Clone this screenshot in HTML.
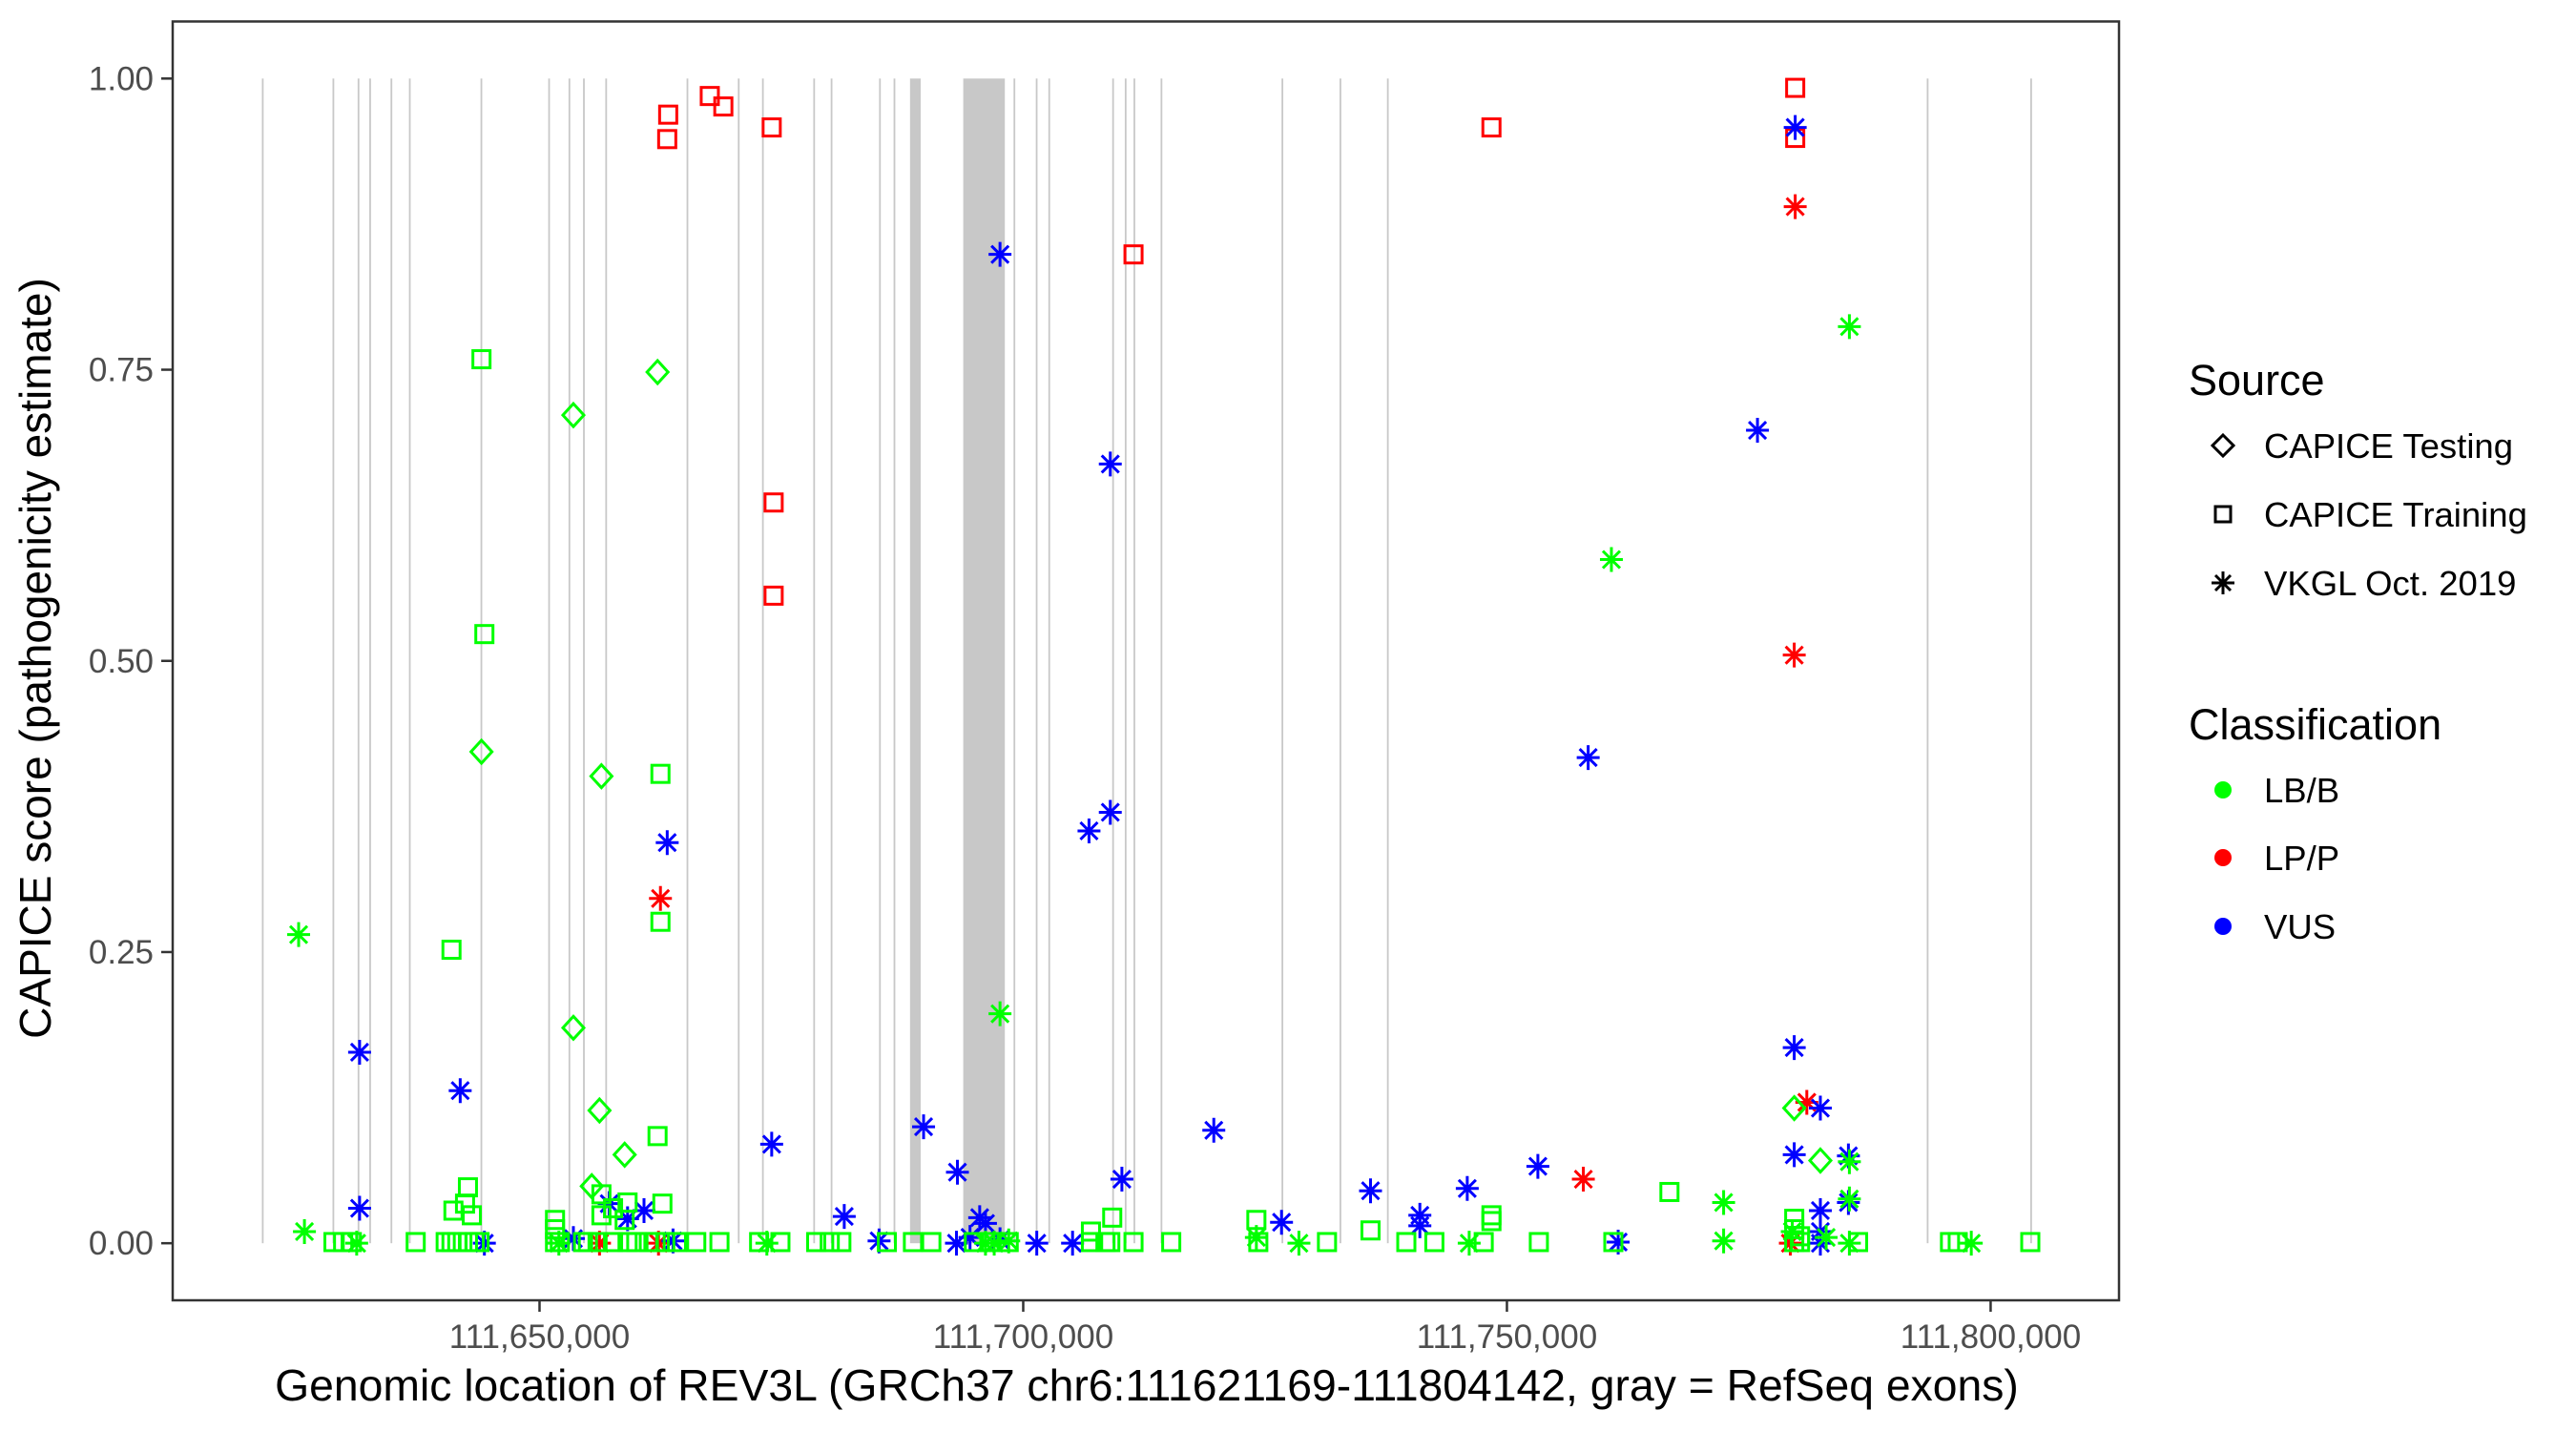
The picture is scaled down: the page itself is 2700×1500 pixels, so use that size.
<!DOCTYPE html>
<html><head><meta charset="utf-8"><title>REV3L CAPICE scores</title>
<style>
html,body{margin:0;padding:0;background:#fff;}
svg{display:block;font-family:"Liberation Sans",Arial,sans-serif;}
</style></head>
<body>
<svg id="chart" width="2700" height="1500" viewBox="0 0 2700 1500">
  <rect x="0" y="0" width="2700" height="1500" fill="#fff"/>
  <g id="exons"></g>
  <g id="points"></g>
  <rect x="181" y="22.5" width="2040" height="1340.5" fill="none" stroke="#333" stroke-width="2.5"/>
  <g id="xaxis"></g>
  <g id="yaxis"></g>
  <text x="1202" y="1468" font-size="46.3" text-anchor="middle" fill="#000">Genomic location of REV3L (GRCh37 chr6:111621169-111804142, gray = RefSeq exons)</text>
  <text transform="translate(53,690) rotate(-90)" font-size="46" text-anchor="middle" fill="#000">CAPICE score (pathogenicity estimate)</text>
  <g id="legend">
    <text x="2294" y="414" font-size="45" fill="#000">Source</text>
    <path d="M2330 456 L2341 467 L2330 478 L2319 467 Z" fill="none" stroke="#000" stroke-width="3"/>
    <text x="2373" y="480" font-size="36.5" fill="#000">CAPICE Testing</text>
    <rect x="2322" y="531" width="16" height="16" fill="none" stroke="#000" stroke-width="3"/>
    <text x="2373" y="552" font-size="36.5" fill="#000">CAPICE Training</text>
    <g stroke="#000" stroke-width="3">
      <line x1="2330" y1="599" x2="2330" y2="623"/><line x1="2318" y1="611" x2="2342" y2="611"/>
      <line x1="2322" y1="603" x2="2338" y2="619"/><line x1="2322" y1="619" x2="2338" y2="603"/>
    </g>
    <text x="2373" y="624" font-size="36.5" fill="#000">VKGL Oct. 2019</text>
    <text x="2294" y="775" font-size="45" fill="#000">Classification</text>
    <circle cx="2330" cy="828" r="9" fill="#00ff00"/>
    <text x="2373" y="841" font-size="36.5" fill="#000">LB/B</text>
    <circle cx="2330" cy="899" r="9" fill="#ff0000"/>
    <text x="2373" y="912" font-size="36.5" fill="#000">LP/P</text>
    <circle cx="2330" cy="971" r="9" fill="#0000ff"/>
    <text x="2373" y="984" font-size="36.5" fill="#000">VUS</text>
  </g>
</svg>
<script>
// ---- data ----
const xTickValues = [111650000, 111700000, 111750000, 111800000];
const xTickLabels = ["111,650,000", "111,700,000", "111,750,000", "111,800,000"];
const yTickValues = [0, 0.25, 0.5, 0.75, 1];
const yTickLabels = ["0.00", "0.25", "0.50", "0.75", "1.00"];
// exon start/end (kb)
const exonStartKb = [111621.3,111628.6,111631.2,111632.4,111634.6,111636.5,111643.9,111650.9,111653.0,111654.5,111656.8,111665.2,111670.5,111673.0,111678.3,111680.1,111685.1,111686.6,111688.3,111693.8,111699.0,111701.3,111702.6,111709.2,111710.5,111711.4,111714.2,111726.7,111732.7,111737.6,111793.4,111804.1];
const exonEndKb   = [111621.45,111628.75,111631.35,111632.55,111634.75,111636.65,111644.05,111651.05,111653.15,111654.65,111656.95,111665.35,111670.65,111673.15,111678.45,111680.25,111685.25,111686.75,111689.4,111698.1,111699.15,111701.45,111702.75,111709.35,111710.65,111711.55,111714.35,111726.85,111732.85,111737.75,111793.55,111804.25];
// variants: position (kb), score, source (T=testing, R=training, V=VKGL), class (B=LB/B, P=LP/P, U=VUS)
const posKb = [
111667.6,111669.0,111663.3,111663.2,111674.0,111674.2,111674.2,111711.4,111748.4,111779.8,111779.8,
111779.8,111779.7,111662.5,111757.9,111781.0,111656.2,111662.3,111779.3,
111697.6,111709.0,111779.8,111775.9,111758.4,111663.2,111706.8,111709.0,111631.4,111641.8,111674.0,111689.7,111719.7,111710.2,111693.2,111631.4,111779.7,111782.4,111779.7,111753.2,111745.9,111735.9,111741.0,111741.0,111726.7,111681.5,111785.3,111782.4,111785.3,111782.4,111644.3,111653.5,111657.2,111659.1,111660.8,111663.8,111685.1,111693.1,111696.1,111701.4,111705.1,111697.6,111761.5,111782.4,111695.5,111694.5,
111625.1,111625.7,111760.8,111785.4,111697.6,111772.4,111772.4,111785.4,111785.4,111785.4,111728.5,111746.1,111798.0,111673.5,111697.0,111696.1,111631.1,111724.1,111652.0,111698.5,111783.0,111779.5,
111662.2,111653.5,111644.0,111656.4,111653.5,111656.2,111658.8,111655.4,111779.7,111782.4,
111644.0,111644.3,111662.5,111640.9,111662.5,111662.2,111642.6,111642.3,111641.1,111643.0,111662.7,111656.4,111656.4,111651.6,111651.6,111709.2,111707.0,111766.8,111735.9,111748.4,111748.4,111724.1,111779.7,111779.7,111780.3,111657.6,111659.1,111658.8,
111628.7,111629.7,111630.6,111637.2,111640.3,111640.9,111642.6,111643.8,111651.6,111652.1,111654.5,111657.6,111659.1,111660.0,111661.3,111664.2,111666.2,111668.6,111672.7,111674.9,111678.6,111680.0,111681.2,111685.9,111688.6,111690.5,111694.9,111698.5,111707.0,111708.5,111711.4,111715.3,111724.3,111731.4,111739.6,111742.5,111747.6,111753.3,111761.0,111779.7,111780.3,111786.3,111795.8,111796.6,111804.1,111641.5,111643.3,111655.0,111656.0,111662.0,111663.0,111709.0,111696.5
];
const scores = [
0.985,0.976,0.969,0.948,0.958,0.636,0.556,0.849,0.958,0.992,0.949,
0.89,0.505,0.296,0.055,0.121,0,0,0,
0.849,0.669,0.958,0.698,0.417,0.344,0.354,0.37,0.164,0.131,0.085,0.1,0.097,0.055,0.061,0.03,0.168,0.116,0.076,0.066,0.047,0.045,0.024,0.015,0.018,0.023,0.075,0.028,0.035,0.01,0,0.004,0.034,0.021,0.028,0.002,0.002,0,0.017,0,0,0.003,0.001,0,0.022,0.005,
0.265,0.01,0.587,0.787,0.197,0.035,0.002,0.07,0.038,0,0,0,0,0,0,0,0,0.005,0,0.002,0.005,0.01,
0.748,0.711,0.422,0.401,0.185,0.114,0.076,0.049,0.116,0.071,
0.759,0.523,0.403,0.252,0.276,0.092,0.048,0.034,0.028,0.024,0.034,0.042,0.024,0.02,0.012,0.022,0.01,0.044,0.011,0.024,0.019,0.02,0.021,0.012,0.006,0.03,0.035,0.02,
0.001,0.001,0.001,0.001,0.001,0.001,0.001,0.001,0.001,0.001,0.001,0.001,0.001,0.001,0.001,0.001,0.001,0.001,0.001,0.001,0.001,0.001,0.001,0.001,0.001,0.001,0.001,0.001,0.001,0.001,0.001,0.001,0.001,0.001,0.001,0.001,0.001,0.001,0.001,0.001,0.001,0.001,0.001,0.001,0.001,0.001,0.001,0.001,0.001,0.001,0.001,0.001,0.001
];
const sources = "RRRRRRRRRRR" + "VVVVVVVV" + "VVVVVVVVVVVVVVVVVVVVVVVVVVVVVVVVVVVVVVVVVVVVVV" + "VVVVVVVVVVVVVVVVVVVVVV" + "TTTTTTTTTT" + "RRRRRRRRRRRRRRRRRRRRRRRRRRRR" + "RRRRRRRRRRRRRRRRRRRRRRRRRRRRRRRRRRRRRRRRRRRRRRRRRRRRR";
const classes = "PPPPPPPPPPP" + "PPPPPPPP" + "UUUUUUUUUUUUUUUUUUUUUUUUUUUUUUUUUUUUUUUUUUUUUU" + "BBBBBBBBBBBBBBBBBBBBBB" + "BBBBBBBBBB" + "BBBBBBBBBBBBBBBBBBBBBBBBBBBB" + "BBBBBBBBBBBBBBBBBBBBBBBBBBBBBBBBBBBBBBBBBBBBBBBBBBBBB";

// ---- scales ----
const NS = "http://www.w3.org/2000/svg";
const X0 = 181, X1 = 2221, Y0 = 1363, Y1 = 22.5;
const xDom = [111612080, 111813270], yDom = [-0.049, 1.049];
function xScale(bp){ return X0 + (bp - xDom[0]) / (xDom[1] - xDom[0]) * (X1 - X0); }
function yScale(v){ return Y0 - (v - yDom[0]) / (yDom[1] - yDom[0]) * (Y0 - Y1); }
const colorMap = {B:"#00ff00", P:"#ff0000", U:"#0000ff"};
function mk(tag, attrs, parent){ const e = document.createElementNS(NS, tag); for (const k in attrs) e.setAttribute(k, attrs[k]); parent.appendChild(e); return e; }

const gEx = document.getElementById("exons");
const eTop = yScale(1), eBot = yScale(0);
for (let i = 0; i < exonStartKb.length; i++) {
  const xa = xScale(exonStartKb[i]*1000), xb = xScale(exonEndKb[i]*1000);
  const w = Math.max(1.8, xb - xa);
  const r = mk("rect", {x: xa, y: eTop, width: w, height: eBot - eTop, fill: "#c8c8c8"}, gEx);
  
  
}

const gx = document.getElementById("xaxis");
xTickValues.forEach((v, i) => {
  const x = xScale(v);
  const t = mk("line", {x1: x, x2: x, y1: Y0, y2: Y0 + 12, stroke: "#333", "stroke-width": 2.5}, gx);
  
  
  const l = mk("text", {x: x, y: Y0 + 50, "font-size": 35, "text-anchor": "middle", fill: "#4d4d4d"}, gx);
  l.textContent = xTickLabels[i];
  
  
});
const gy = document.getElementById("yaxis");
yTickValues.forEach((v, i) => {
  const y = yScale(v);
  const t = mk("line", {x1: X0 - 12, x2: X0, y1: y, y2: y, stroke: "#333", "stroke-width": 2.5}, gy);
  
  
  const l = mk("text", {x: X0 - 20, y: y + 12, "font-size": 35, "text-anchor": "end", fill: "#4d4d4d"}, gy);
  l.textContent = yTickLabels[i];
  
  
});

const gp = document.getElementById("points");
for (let i = 0; i < posKb.length; i++) {
  const x = xScale(posKb[i]*1000), y = yScale(scores[i]);
  const c = colorMap[classes[i]], s = sources[i];
  let el;
  if (s === "R") {
    el = mk("rect", {x: x - 9, y: y - 9, width: 18, height: 18, fill: "none", stroke: c, "stroke-width": 3}, gp);
  } else if (s === "T") {
    el = mk("path", {d: `M${x} ${y-12} L${x+11} ${y} L${x} ${y+12} L${x-11} ${y} Z`, fill: "none", stroke: c, "stroke-width": 3}, gp);
  } else {
    el = mk("path", {d: `M${x} ${y-13} L${x} ${y+13} M${x-12} ${y} L${x+12} ${y} M${x-9} ${y-9} L${x+9} ${y+9} M${x-9} ${y+9} L${x+9} ${y-9}`, fill: "none", stroke: c, "stroke-width": 3}, gp);
  }
  
  
}
</script>
</body></html>
